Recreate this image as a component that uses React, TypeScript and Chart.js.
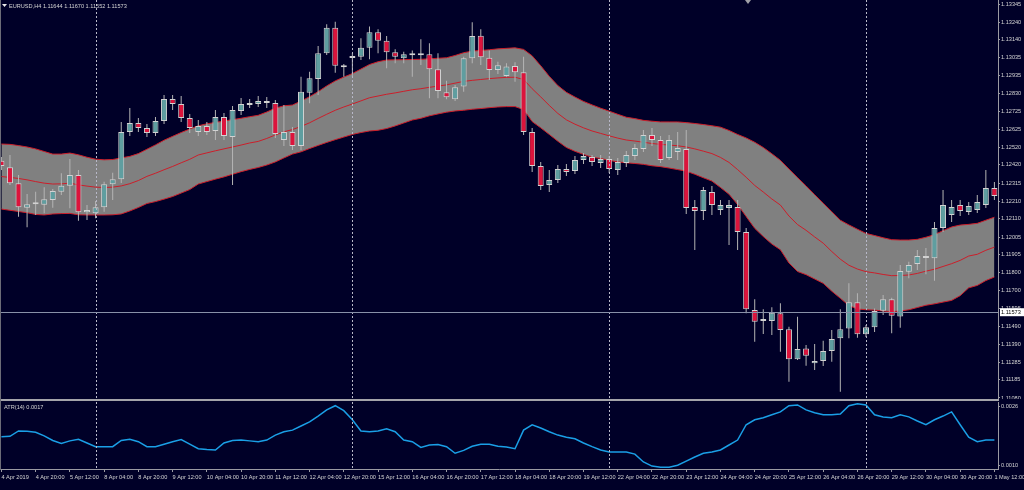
import React, { useEffect, useRef } from "react";
import { Chart, registerables } from "chart.js";

Chart.register(...registerables);

// ---------------- DATA ----------------
const symbolHeader = "EURUSD,H4 1.11644 1.11670 1.11552 1.11573";
const atrTitle = "ATR(14) 0.0017";
const bidPrice = 1.11573;

const timeLabels = [
  "4 Apr 2019", "4 Apr 20:00", "5 Apr 12:00", "8 Apr 04:00", "8 Apr 20:00", "9 Apr 12:00",
  "10 Apr 04:00", "10 Apr 20:00", "11 Apr 12:00", "12 Apr 04:00", "12 Apr 20:00", "15 Apr 12:00",
  "16 Apr 04:00", "16 Apr 20:00", "17 Apr 12:00", "18 Apr 04:00", "18 Apr 20:00", "19 Apr 12:00",
  "22 Apr 04:00", "22 Apr 20:00", "23 Apr 12:00", "24 Apr 04:00", "24 Apr 20:00", "25 Apr 12:00",
  "26 Apr 04:00", "26 Apr 20:00", "29 Apr 12:00", "30 Apr 04:00", "30 Apr 20:00", "1 May 12:00",
];
const barsPerLabel = 4;
const weekStartBars = [11, 41, 71, 101];

const priceTicks = [
  1.13345, 1.1324, 1.1314, 1.13035, 1.12935, 1.1283, 1.12725, 1.12625, 1.1252, 1.1242, 1.12315,
  1.1221, 1.1211, 1.12005, 1.11905, 1.118, 1.117, 1.11595, 1.1149, 1.1139, 1.11285, 1.11185, 1.1108,
];
const atrTicks = [0.0026, 0.001];

const opens = [
  1.12444, 1.12406, 1.12314, 1.12174, 1.12193, 1.12191, 1.12218, 1.12266, 1.123, 1.12362,
  1.12147, 1.12142, 1.12176, 1.12308, 1.12337, 1.12609, 1.12661, 1.12632, 1.12603, 1.12672,
  1.12799, 1.1277, 1.1269, 1.12609, 1.12644, 1.12615, 1.12695, 1.1258, 1.1273, 1.12764,
  1.1277, 1.12787, 1.12776, 1.12563, 1.12609, 1.12529, 1.12835, 1.12914, 1.13062, 1.13209,
  1.12989, 1.13035, 1.13042, 1.13094, 1.13182, 1.13134, 1.13067, 1.13033, 1.13062, 1.1305,
  1.13056, 1.1297, 1.12837, 1.12797, 1.1287, 1.13033, 1.13163, 1.13036, 1.12966, 1.12931,
  1.12989, 1.12952, 1.12609, 1.12414, 1.12304, 1.12333, 1.12396, 1.12385, 1.12448, 1.12465,
  1.12431, 1.12454, 1.12391, 1.12431, 1.12471, 1.12511, 1.12592, 1.12563, 1.1246, 1.12494,
  1.12511, 1.12178, 1.12155, 1.12264, 1.12161, 1.12172, 1.12178, 1.12034, 1.11586, 1.11534,
  1.11522, 1.11567, 1.11475, 1.11302, 1.11365, 1.11279, 1.11292, 1.1135, 1.11423, 1.1148,
  1.1163, 1.11446, 1.11486, 1.11582, 1.11647, 1.11549, 1.11806, 1.1185, 1.11896, 1.11883,
  1.12057, 1.12132, 1.12189, 1.12149, 1.12161, 1.12189, 1.12287,
];
const highs = [
  1.12465, 1.12477, 1.12362, 1.12253, 1.12266, 1.12291, 1.12281, 1.12372, 1.12454, 1.12391,
  1.12189, 1.12212, 1.12323, 1.12375, 1.12667, 1.12747, 1.1269, 1.12655, 1.12695, 1.12822,
  1.12822, 1.12816, 1.12713, 1.12678, 1.12667, 1.12736, 1.12718, 1.12759, 1.12805, 1.12799,
  1.12816, 1.1281, 1.12793, 1.12764, 1.12638, 1.12927, 1.12956, 1.13104, 1.13228, 1.13243,
  1.13, 1.13063, 1.13148, 1.13215, 1.132, 1.13161, 1.13085, 1.13071, 1.13077, 1.13142,
  1.13119, 1.13062, 1.12904, 1.12879, 1.13042, 1.1324, 1.132, 1.13077, 1.13013, 1.13004,
  1.1301, 1.13042, 1.12632, 1.12437, 1.12391, 1.12419, 1.12425, 1.12471, 1.12488, 1.12477,
  1.12477, 1.12471, 1.1246, 1.125, 1.1254, 1.12621, 1.12632, 1.12586, 1.12592, 1.12609,
  1.12621, 1.12218, 1.12293, 1.12299, 1.12218, 1.12218, 1.12218, 1.12057, 1.11647, 1.1159,
  1.11601, 1.11624, 1.1149, 1.11547, 1.11384, 1.1139, 1.11409, 1.11471, 1.1159, 1.11739,
  1.11682, 1.11499, 1.11595, 1.11672, 1.11656, 1.11844, 1.11863, 1.11931, 1.11942, 1.12092,
  1.12276, 1.12218, 1.12218, 1.12207, 1.12247, 1.12391, 1.12322,
];
const lows = [
  1.12391, 1.12304, 1.12122, 1.12061, 1.12132, 1.12142, 1.12174, 1.12247, 1.1217, 1.12099,
  1.12103, 1.12113, 1.12151, 1.12218, 1.12316, 1.12586, 1.12609, 1.1258, 1.12586, 1.12655,
  1.12736, 1.12667, 1.12603, 1.12586, 1.12592, 1.12563, 1.12563, 1.12304, 1.12707, 1.12747,
  1.12753, 1.12747, 1.12575, 1.12529, 1.12506, 1.12506, 1.12774, 1.12822, 1.13052, 1.1295,
  1.12927, 1.12927, 1.13023, 1.13027, 1.13062, 1.12975, 1.13004, 1.13004, 1.12927, 1.12994,
  1.12803, 1.12803, 1.12797, 1.12787, 1.12841, 1.13004, 1.12994, 1.12908, 1.12943, 1.12927,
  1.12898, 1.12592, 1.12379, 1.12276, 1.12264, 1.12316, 1.12356, 1.12368, 1.12425, 1.12414,
  1.12402, 1.12373, 1.12362, 1.12408, 1.12448, 1.12494, 1.12529, 1.12431, 1.12448, 1.12448,
  1.12138, 1.11931, 1.12103, 1.12132, 1.12132, 1.11959, 1.11931, 1.11567, 1.11403, 1.11448,
  1.11442, 1.11346, 1.11173, 1.11298, 1.11265, 1.11241, 1.11264, 1.11288, 1.11116, 1.11423,
  1.11426, 1.1143, 1.11459, 1.11557, 1.11452, 1.11484, 1.11768, 1.11816, 1.11791, 1.11754,
  1.12034, 1.12092, 1.12126, 1.12132, 1.12143, 1.12172, 1.12218,
];
const closes = [
  1.12414, 1.12314, 1.12176, 1.12193, 1.12205, 1.12222, 1.1227, 1.123, 1.12362, 1.12147,
  1.1216, 1.12176, 1.12308, 1.12337, 1.12609, 1.12661, 1.12632, 1.12603, 1.12672, 1.12799,
  1.1277, 1.1269, 1.12632, 1.12644, 1.12609, 1.12695, 1.12586, 1.12736, 1.1277, 1.12776,
  1.12787, 1.12776, 1.12598, 1.12609, 1.12529, 1.12841, 1.12918, 1.13062, 1.13209, 1.1299,
  1.12981, 1.13042, 1.13094, 1.13182, 1.13134, 1.13067, 1.13042, 1.13056, 1.1305, 1.13056,
  1.1297, 1.12845, 1.12809, 1.12866, 1.13033, 1.13161, 1.13039, 1.12966, 1.12993, 1.12985,
  1.12952, 1.12609, 1.12414, 1.12299, 1.12333, 1.12396, 1.12379, 1.12448, 1.12471, 1.12437,
  1.12454, 1.12396, 1.12437, 1.12477, 1.12517, 1.12592, 1.12563, 1.12448, 1.12563, 1.12517,
  1.12172, 1.12155, 1.12276, 1.12189, 1.12189, 1.12189, 1.12034, 1.1159, 1.11518, 1.11522,
  1.1157, 1.11471, 1.11302, 1.11361, 1.11323, 1.11292, 1.1135, 1.11419, 1.11475, 1.1163,
  1.11446, 1.11486, 1.1158, 1.11647, 1.11553, 1.1181, 1.11844, 1.11896, 1.11885, 1.12057,
  1.12189, 1.12178, 1.12155, 1.12184, 1.12207, 1.12287, 1.12241,
];

const bandUpper = [
  1.1254, 1.12538, 1.12531, 1.12523, 1.12512, 1.12497, 1.12482, 1.12482, 1.12488, 1.12478,
  1.12464, 1.12453, 1.12449, 1.12451, 1.1246, 1.12469, 1.12485, 1.1251, 1.12535, 1.12562,
  1.12584, 1.12606, 1.12626, 1.12645, 1.12656, 1.12664, 1.12672, 1.1268, 1.12688, 1.12697,
  1.12705, 1.12724, 1.12746, 1.1276, 1.12764, 1.12787, 1.12812, 1.12841, 1.12874, 1.12903,
  1.12925, 1.12945, 1.12971, 1.12997, 1.13013, 1.13023, 1.13024, 1.13025, 1.13026, 1.13027,
  1.1303, 1.13033, 1.13036, 1.13049, 1.13065, 1.13074, 1.13078, 1.13082, 1.13087, 1.1309,
  1.13093, 1.13084, 1.13047, 1.1299, 1.12929, 1.12876, 1.12837, 1.1281, 1.12785, 1.12765,
  1.12746, 1.12729, 1.12711, 1.12694, 1.12686, 1.12676, 1.12671, 1.12667, 1.12667, 1.12667,
  1.12663, 1.12658, 1.12652, 1.12645, 1.12637, 1.12618, 1.12595, 1.12575, 1.1255, 1.1252,
  1.12484, 1.12446, 1.12396, 1.12347, 1.12299, 1.12249, 1.122, 1.12151, 1.12102, 1.12075,
  1.1205, 1.12026, 1.12014, 1.12001, 1.1199, 1.11988, 1.11988, 1.11992, 1.12004, 1.12019,
  1.12042, 1.12063, 1.12074, 1.12078, 1.12084, 1.12102, 1.12119,
];
const bandMiddle = [
  1.12353, 1.12348, 1.12342, 1.12334, 1.12324, 1.12315, 1.1231, 1.12311, 1.12315, 1.12305,
  1.12298, 1.12292, 1.1229, 1.12292, 1.12299, 1.12312, 1.1233, 1.12354, 1.12372, 1.12392,
  1.12411, 1.12432, 1.12452, 1.12477, 1.12489, 1.12501, 1.12512, 1.12523, 1.12534, 1.12546,
  1.12555, 1.12572, 1.12592, 1.1261, 1.12623, 1.12641, 1.12662, 1.12687, 1.12711, 1.12734,
  1.12753, 1.1277, 1.12788, 1.12806, 1.12816, 1.12826, 1.12834, 1.12843, 1.12852, 1.12858,
  1.12866, 1.12873, 1.1288, 1.1289, 1.129, 1.12906, 1.12911, 1.12916, 1.1292, 1.12923,
  1.12924, 1.12911, 1.12858, 1.12811, 1.12762, 1.12716, 1.12679, 1.12654, 1.12633, 1.12615,
  1.12601, 1.12587, 1.12574, 1.12563, 1.12557, 1.1255, 1.12543, 1.12538, 1.12534, 1.1253,
  1.12523, 1.12512, 1.12499, 1.12485, 1.12463, 1.12434, 1.12393, 1.12349, 1.12302, 1.12264,
  1.12224, 1.12189, 1.12126, 1.12077, 1.12044, 1.12006, 1.1197, 1.11922, 1.11878, 1.11843,
  1.11821, 1.11806, 1.11799, 1.1179, 1.11783, 1.11784, 1.11787, 1.11796, 1.11809, 1.1182,
  1.11836, 1.11852, 1.11871, 1.11896, 1.11906, 1.11929, 1.11947,
];
const bandLower = [
  1.12166, 1.12159, 1.12152, 1.12145, 1.12135, 1.12132, 1.12138, 1.1214, 1.12141, 1.12133,
  1.12132, 1.12132, 1.12132, 1.12133, 1.12138, 1.12155, 1.12175, 1.12198, 1.12209, 1.12223,
  1.12238, 1.12258, 1.12278, 1.1231, 1.12324, 1.12338, 1.12351, 1.12366, 1.12381, 1.12394,
  1.12405, 1.12419, 1.12437, 1.1246, 1.12482, 1.12495, 1.12514, 1.12532, 1.12549, 1.12565,
  1.1258, 1.12595, 1.12606, 1.12615, 1.12619, 1.12629, 1.12644, 1.12661, 1.12678, 1.12688,
  1.12702, 1.12713, 1.12723, 1.1273, 1.12734, 1.1274, 1.12744, 1.12749, 1.12753, 1.12755,
  1.12755, 1.12738, 1.12669, 1.12633, 1.12595, 1.12556, 1.1252, 1.12498, 1.1248, 1.12464,
  1.12457, 1.12446, 1.12437, 1.12432, 1.12428, 1.12423, 1.12415, 1.1241, 1.12402, 1.12393,
  1.12384, 1.12366, 1.12346, 1.12327, 1.1229, 1.12251, 1.12192, 1.12123, 1.12055, 1.12008,
  1.11965, 1.11932, 1.11856, 1.11807, 1.11789, 1.11764, 1.11739, 1.11694, 1.11653, 1.11611,
  1.11592, 1.11587, 1.11585, 1.1158, 1.11576, 1.1158, 1.11587, 1.116, 1.11613, 1.11621,
  1.11631, 1.11641, 1.11668, 1.11713, 1.11727, 1.11755, 1.11775,
];

const atrValues = [
  0.00178, 0.00179, 0.00192, 0.00191, 0.00189, 0.0018, 0.00169, 0.00162, 0.00168, 0.00172,
  0.00163, 0.00154, 0.00154, 0.00154, 0.00169, 0.00172, 0.00166, 0.00154, 0.00154, 0.0016,
  0.00166, 0.00171, 0.0016, 0.00149, 0.00147, 0.00146, 0.00163, 0.00169, 0.0017, 0.00168,
  0.00166, 0.0017, 0.00182, 0.0019, 0.00194, 0.00204, 0.00214, 0.00228, 0.00243, 0.00253,
  0.00241, 0.00219, 0.00192, 0.0019, 0.00192, 0.00197, 0.0019, 0.0017, 0.00166, 0.00152,
  0.00158, 0.00159, 0.00154, 0.00138, 0.00145, 0.00155, 0.0016, 0.0016, 0.00155, 0.00153,
  0.00149, 0.00194, 0.00207, 0.00199, 0.0019, 0.00182, 0.00177, 0.00173, 0.00163, 0.00154,
  0.00146, 0.00141, 0.00141, 0.00141, 0.00136, 0.00117, 0.00107, 0.00104, 0.00104, 0.00109,
  0.00119, 0.00129, 0.00138, 0.00141, 0.00146, 0.00158, 0.0017, 0.00207, 0.00219, 0.00224,
  0.00231, 0.00238, 0.00253, 0.00255, 0.00243, 0.00236, 0.00231, 0.00231, 0.00233, 0.00253,
  0.00258, 0.00255, 0.00231, 0.00226, 0.00224, 0.00231, 0.00226, 0.00216, 0.00207, 0.00219,
  0.00228, 0.00238, 0.00207, 0.00177, 0.00166, 0.0017, 0.0017,
];

// ---------------- STYLE ----------------
const BG = "#000028";
const AXIS = "#9a9aa2";
const TEXT = "#d4d4d4";
const BULL = "#5f9ea0";
const BEAR = "#dc143c";
const BODY_BORDER = "#d2d2d2";
const WICK = "#b4b4b4";
const BAND_FILL = "#808080";
const BAND_LINE = "#cc1e2a";
const ATR_LINE = "#1a9fe6";
const GRID = "#b8b8c8";
const BID_LINE = "#8890a8";
const FONT_FAMILY = '"Liberation Sans", Arial, sans-serif';
const FONT_SIZE = 5.6;
const X_MIN = -0.164;
const X_MAX = 116.42;
const AXIS_W = 26;

const fontStr = () => `${FONT_SIZE}px ${FONT_FAMILY}`;

function drawWeekLines(chart: any) {
  const { ctx, chartArea, scales } = chart;
  ctx.save();
  ctx.strokeStyle = GRID;
  ctx.lineWidth = 1;
  ctx.setLineDash([2, 2]);
  weekStartBars.forEach((b) => {
    const px = Math.round(scales.x.getPixelForValue(b)) + 0.5;
    ctx.beginPath();
    ctx.moveTo(px, chartArea.top);
    ctx.lineTo(px, chartArea.bottom);
    ctx.stroke();
  });
  ctx.restore();
}

const mainOverlay = {
  id: "mainOverlay",
  afterDatasetsDraw(chart: any) {
    drawWeekLines(chart);
    const { ctx, chartArea, scales } = chart;
    const by = Math.round(scales.y.getPixelForValue(bidPrice)) + 0.5;
    ctx.save();
    ctx.strokeStyle = BID_LINE;
    ctx.lineWidth = 1;
    ctx.beginPath();
    ctx.moveTo(chartArea.left, by);
    ctx.lineTo(chartArea.right, by);
    ctx.stroke();
    ctx.restore();
  },
  afterDraw(chart: any) {
    const { ctx, chartArea, scales, width } = chart;
    const by = scales.y.getPixelForValue(bidPrice);
    ctx.save();
    ctx.fillStyle = "#ffffff";
    ctx.fillRect(chartArea.right + 2, by - 4, width - chartArea.right - 2, 8);
    ctx.fillStyle = "#000000";
    ctx.font = fontStr();
    ctx.textBaseline = "middle";
    ctx.textAlign = "left";
    ctx.fillText(bidPrice.toFixed(5), chartArea.right + 3, by + 0.5);
    // header
    ctx.fillStyle = "#e8e8e8";
    ctx.beginPath();
    ctx.moveTo(2, 4);
    ctx.lineTo(7, 4);
    ctx.lineTo(4.5, 7);
    ctx.closePath();
    ctx.fill();
    ctx.fillStyle = TEXT;
    ctx.fillText(symbolHeader, 9, 6);
    // chart shift marker
    ctx.fillStyle = "#a0a0a8";
    ctx.beginPath();
    ctx.moveTo(745, 0);
    ctx.lineTo(751, 0);
    ctx.lineTo(748, 4);
    ctx.closePath();
    ctx.fill();
    ctx.restore();
  },
};

const atrOverlay = {
  id: "atrOverlay",
  afterDatasetsDraw(chart: any) {
    drawWeekLines(chart);
  },
  afterDraw(chart: any) {
    const { ctx, chartArea } = chart;
    ctx.save();
    ctx.font = fontStr();
    ctx.fillStyle = TEXT;
    ctx.textBaseline = "middle";
    ctx.textAlign = "left";
    ctx.fillText(atrTitle, 4, chartArea.top + 5);
    ctx.fillText(atrTicks[0].toFixed(4), chartArea.right + 3, chartArea.top + 4);
    ctx.fillText(atrTicks[1].toFixed(4), chartArea.right + 3, chartArea.bottom - 4);
    ctx.strokeStyle = AXIS;
    ctx.beginPath();
    ctx.moveTo(chartArea.right, chartArea.top + 4.5);
    ctx.lineTo(chartArea.right + 2, chartArea.top + 4.5);
    ctx.moveTo(chartArea.right, chartArea.bottom - 3.5);
    ctx.lineTo(chartArea.right + 2, chartArea.bottom - 3.5);
    ctx.stroke();
    ctx.restore();
  },
};

function mainConfig(): any {
  const idx = opens.map((_, i) => i);
  return {
    type: "bar",
    data: {
      datasets: [
        {
          type: "line",
          data: idx.map((i) => ({ x: i, y: bandUpper[i] })),
          borderColor: BAND_LINE,
          borderWidth: 1,
          pointRadius: 0,
          tension: 0,
          fill: 2,
          backgroundColor: BAND_FILL,
          order: 10,
        },
        {
          type: "line",
          data: idx.map((i) => ({ x: i, y: bandMiddle[i] })),
          borderColor: BAND_LINE,
          borderWidth: 1,
          pointRadius: 0,
          tension: 0,
          fill: false,
          order: 8,
        },
        {
          type: "line",
          data: idx.map((i) => ({ x: i, y: bandLower[i] })),
          borderColor: BAND_LINE,
          borderWidth: 1,
          pointRadius: 0,
          tension: 0,
          fill: false,
          order: 9,
        },
        {
          type: "bar",
          data: idx.map((i) => ({ x: i, y: [lows[i], highs[i]] })),
          backgroundColor: WICK,
          borderWidth: 0,
          barThickness: 1,
          grouped: false,
          inflateAmount: 0,
          order: 2,
        },
        {
          type: "bar",
          data: idx.map((i) => ({ x: i, y: [opens[i], closes[i]] })),
          backgroundColor: idx.map((i) => (closes[i] >= opens[i] ? BULL : BEAR)),
          borderColor: BODY_BORDER,
          borderWidth: 1,
          borderSkipped: false,
          barThickness: 6,
          minBarLength: 2,
          grouped: false,
          inflateAmount: 0,
          order: 1,
        },
      ],
    },
    options: {
      animation: false,
      responsive: false,
      devicePixelRatio: 1,
      events: [],
      layout: { padding: 0 },
      plugins: { legend: { display: false }, tooltip: { enabled: false } },
      scales: {
        x: { type: "linear", min: X_MIN, max: X_MAX, offset: false, display: false },
        y: {
          type: "linear",
          position: "right",
          min: 1.11074,
          max: 1.13368,
          afterBuildTicks: (s: any) => {
            s.ticks = priceTicks.map((v) => ({ value: v }));
          },
          afterFit: (s: any) => {
            s.width = AXIS_W;
            s.paddingTop = 0;
            s.paddingBottom = 0;
          },
          ticks: {
            autoSkip: false,
            color: TEXT,
            padding: 1,
            font: { family: FONT_FAMILY, size: FONT_SIZE },
            callback: (v: any) => Number(v).toFixed(5),
          },
          grid: { drawOnChartArea: false, drawTicks: true, tickLength: 2, color: AXIS },
          border: { display: true, color: AXIS, width: 1 },
        },
      },
    },
    plugins: [mainOverlay],
  };
}

function atrConfig(): any {
  const idx = atrValues.map((_, i) => i);
  return {
    type: "line",
    data: {
      datasets: [
        {
          data: idx.map((i) => ({ x: i, y: atrValues[i] })),
          borderColor: ATR_LINE,
          borderWidth: 1.5,
          pointRadius: 0,
          tension: 0,
          fill: false,
        },
      ],
    },
    options: {
      animation: false,
      responsive: false,
      devicePixelRatio: 1,
      events: [],
      layout: { padding: { top: 1, left: 0, right: 0, bottom: 0 } },
      plugins: { legend: { display: false }, tooltip: { enabled: false } },
      scales: {
        x: {
          type: "linear",
          min: X_MIN,
          max: X_MAX,
          offset: false,
          position: "bottom",
          afterBuildTicks: (s: any) => {
            s.ticks = timeLabels.map((_, k) => ({ value: k * barsPerLabel }));
          },
          afterFit: (s: any) => {
            s.height = 21;
            s.paddingLeft = 0;
            s.paddingRight = 0;
          },
          ticks: {
            autoSkip: false,
            maxRotation: 0,
            minRotation: 0,
            align: "start",
            color: TEXT,
            padding: 2,
            font: { family: FONT_FAMILY, size: FONT_SIZE },
            callback: (_v: any, i: number) => timeLabels[i],
          },
          grid: { drawOnChartArea: false, drawTicks: true, tickLength: 3, color: AXIS },
          border: { display: true, color: AXIS, width: 1 },
        },
        y: {
          type: "linear",
          position: "right",
          min: 0.001,
          max: 0.00262,
          afterBuildTicks: (s: any) => {
            s.ticks = atrTicks.map((v) => ({ value: v }));
          },
          afterFit: (s: any) => {
            s.width = AXIS_W;
            s.paddingTop = 0;
            s.paddingBottom = 0;
          },
          ticks: { display: false },
          grid: { display: false },
          border: { display: true, color: AXIS, width: 1 },
        },
      },
    },
    plugins: [atrOverlay],
  };
}

export default function App() {
  const mainRef = useRef<HTMLCanvasElement>(null);
  const atrRef = useRef<HTMLCanvasElement>(null);

  useEffect(() => {
    const c1 = new Chart(mainRef.current as HTMLCanvasElement, mainConfig());
    const c2 = new Chart(atrRef.current as HTMLCanvasElement, atrConfig());
    return () => {
      c1.destroy();
      c2.destroy();
    };
  }, []);

  return (
    <div
      style={{
        position: "fixed",
        left: 0,
        top: 0,
        width: 1024,
        height: 490,
        background: BG,
        overflow: "hidden",
      }}
    >
      <canvas
        ref={mainRef}
        width={1024}
        height={399}
        style={{ position: "absolute", left: 0, top: 0, width: 1024, height: 399 }}
      />
      <div
        style={{ position: "absolute", left: 0, top: 399, width: 999, height: 2, background: "#a4a4aa" }}
      />
      <canvas
        ref={atrRef}
        width={1024}
        height={89}
        style={{ position: "absolute", left: 0, top: 401, width: 1024, height: 89 }}
      />
      <div style={{ position: "absolute", left: 0, top: 0, width: 1, height: 470, background: "#6c6c78" }} />
    </div>
  );
}
